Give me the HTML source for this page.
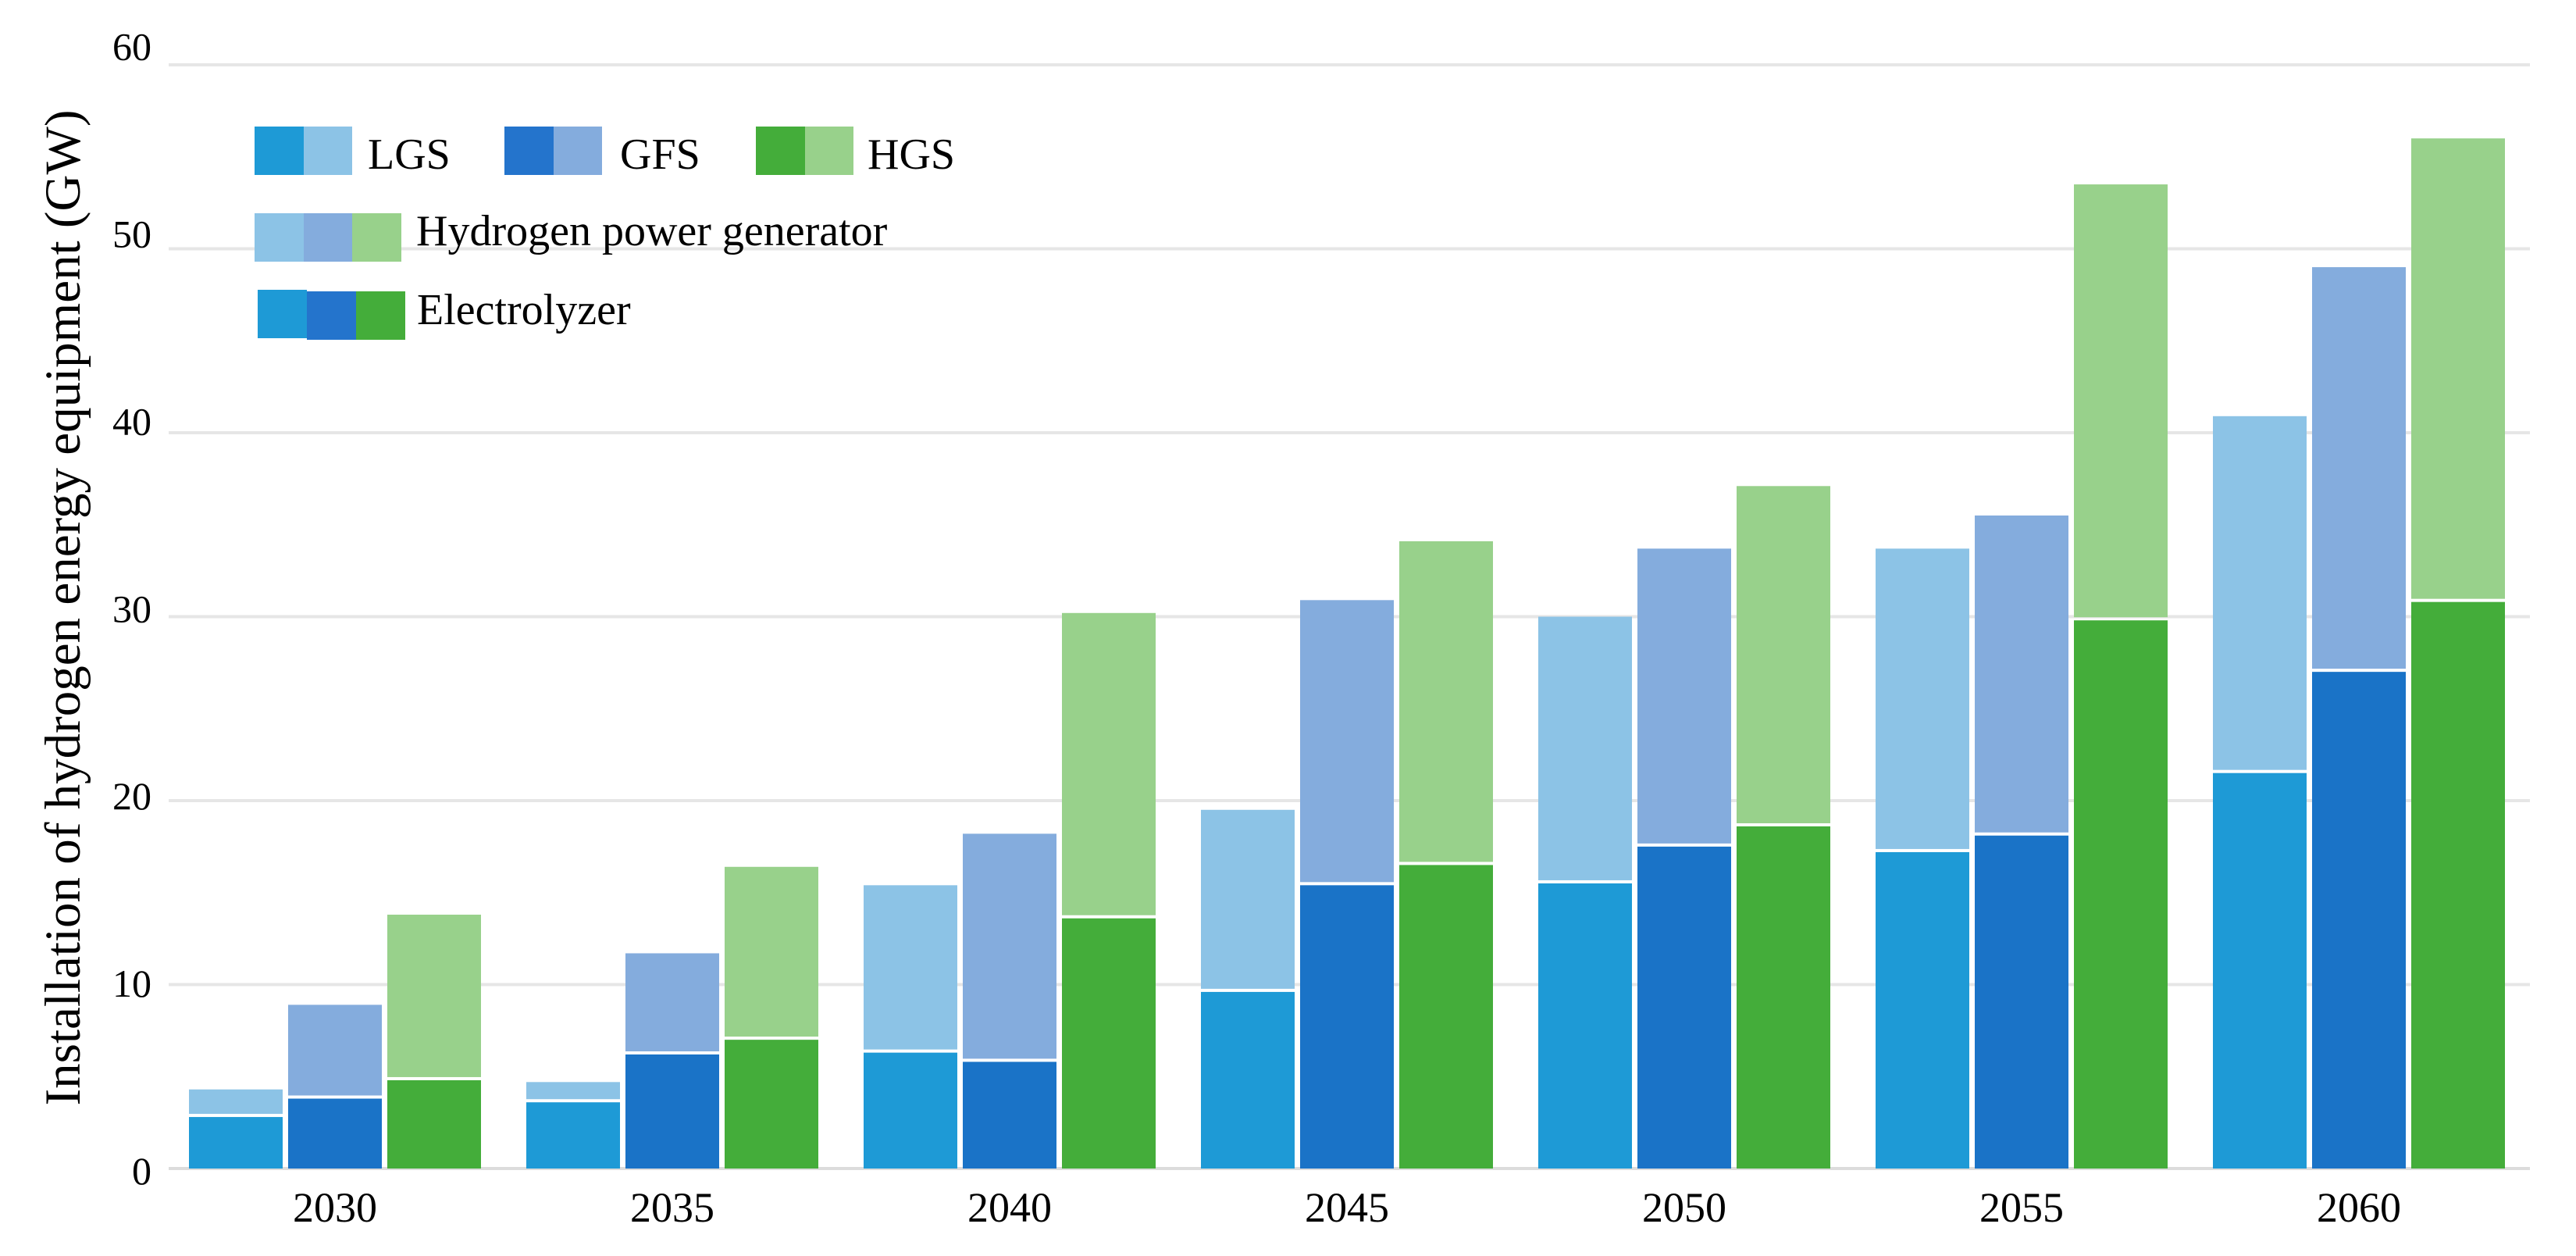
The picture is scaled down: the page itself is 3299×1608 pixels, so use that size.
<!DOCTYPE html>
<html><head><meta charset="utf-8"><style>
html,body{margin:0;padding:0;background:#fff;}
svg{display:block;font-family:"Liberation Serif",serif;}
</style></head><body>
<svg id="chart" width="3299" height="1608" viewBox="0 0 3299 1608" xmlns="http://www.w3.org/2000/svg">
<g id="grid"></g>
<g id="yticks"></g>
<g id="bars"></g>
<g id="xticks"></g>
<text transform="translate(102,778) rotate(-90)" text-anchor="middle" font-size="65" fill="#000">Installation of hydrogen energy equipment (GW)</text>
<g>
 <g>
  <rect x="326" y="162" width="63" height="62" fill="#1e9ad6"/><rect x="389" y="162" width="62" height="62" fill="#8cc3e6"/>
  <text x="471" y="216" font-size="56">LGS</text></g>
 <g>
  <rect x="646" y="162" width="63" height="62" fill="#2474cc"/><rect x="709" y="162" width="62" height="62" fill="#84acdd"/>
  <text x="794" y="216" font-size="56">GFS</text></g>
 <g>
  <rect x="968" y="162" width="63" height="62" fill="#44ad3a"/><rect x="1031" y="162" width="62" height="62" fill="#98d18b"/>
  <text x="1111" y="216" font-size="56">HGS</text></g>
 <g>
  <rect x="326" y="273" width="63" height="62" fill="#8cc3e6"/><rect x="389" y="273" width="62" height="62" fill="#84acdd"/><rect x="451" y="273" width="63" height="62" fill="#98d18b"/>
  <text x="533" y="314" font-size="56">Hydrogen power generator</text></g>
 <g>
  <rect x="330" y="371" width="63" height="62" fill="#1e9ad6"/><rect x="393" y="373" width="63" height="62" fill="#2474cc"/><rect x="456" y="373" width="63" height="62" fill="#44ad3a"/>
  <text x="534" y="415" font-size="56">Electrolyzer</text></g>
</g>
</svg>
<script>
const years = ["2030","2035","2040","2045","2050","2055","2060"];
const lgsElectrolyzer = [2.8,3.6,6.3,9.6,15.5,17.2,21.5];
const lgsTotal = [4.3,4.7,15.4,19.5,30.0,33.7,40.9];
const gfsElectrolyzer = [3.8,6.2,5.8,15.4,17.5,18.1,27.0];
const gfsTotal = [8.9,11.7,18.2,30.9,33.7,35.5,49.0];
const hgsElectrolyzer = [4.8,7.0,13.6,16.5,18.6,29.8,30.8];
const hgsTotal = [13.8,16.4,30.2,34.1,37.1,53.5,56.0];
const yTicks = [0,10,20,30,40,50,60];

const NS="http://www.w3.org/2000/svg";
const y0=1496, unit=23.55, xLeft=216, xRight=3240;
const yScale=v=>y0-v*unit;
const labelY=v=>1498-v*23.99+18;
const xCenter=i=>429+i*432;
const barW=120, gap=7;
function mk(tag,attrs,parent){const e=document.createElementNS(NS,tag);for(const k in attrs)e.setAttribute(k,attrs[k]);parent.appendChild(e);return e;}
const grid=document.getElementById('grid'), yt=document.getElementById('yticks'), bars=document.getElementById('bars'), xt=document.getElementById('xticks');
yTicks.forEach(t=>{
  const l=mk('rect',{x:xLeft,y:yScale(t)-2,width:xRight-xLeft,height:4,fill:t===0?'#dcdcdc':'#e6e6e6'},grid);
  
  
  const tx=mk('text',{x:194,y:labelY(t),'text-anchor':'end','font-size':50,fill:'#000'},yt);
  tx.textContent=t;
  
  
});
const series=[
  {name:'lgs',el:lgsElectrolyzer,tot:lgsTotal,dark:'#1e9ad6',light:'#8cc3e6'},
  {name:'gfs',el:gfsElectrolyzer,tot:gfsTotal,dark:'#1a73c7',light:'#84acdd'},
  {name:'hgs',el:hgsElectrolyzer,tot:hgsTotal,dark:'#44ad3a',light:'#98d18b'}
];
years.forEach((yr,i)=>{
  const gx=xCenter(i)-(3*barW+2*gap)/2;
  series.forEach((s,j)=>{
    const x=gx+j*(barW+gap);
    const e=s.el[i], t=s.tot[i];
    const r1=mk('rect',{x:x,y:yScale(e),width:barW,height:yScale(0)-yScale(e),fill:s.dark},bars);
    
    
    const r2=mk('rect',{x:x,y:yScale(t),width:barW,height:Math.max(0,yScale(e)-yScale(t)-4),fill:s.light},bars);
    
    
  });
  const lb=mk('text',{x:xCenter(i),y:1564,'text-anchor':'middle','font-size':54,fill:'#000'},xt);
  lb.textContent=yr;
  
  
});
</script>
</body></html>
